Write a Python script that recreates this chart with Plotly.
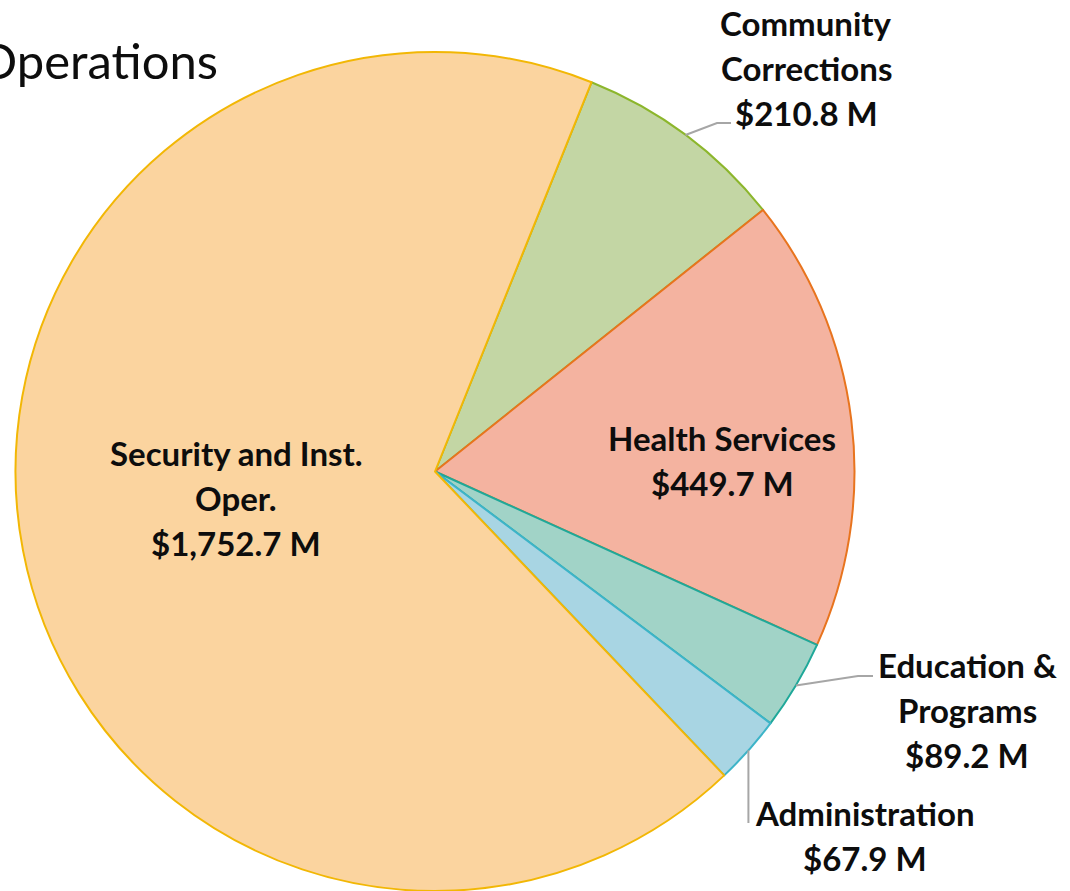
import math
import plotly.graph_objects as go

# ---- data ----
categories = ["Community Corrections", "Health Services", "Education & Programs",
              "Administration", "Security and Inst. Oper."]
values = [210.8, 449.7, 89.2, 67.9, 1752.7]
label_lines = [["Community", "Corrections"], ["Health Services"], ["Education &", "Programs"],
               ["Administration"], ["Security and Inst.", "Oper."]]
fill_colors = ["#C3D6A4", "#F4B3A0", "#A1D3C7", "#A8D5E3", "#FBD49F"]
line_colors = ["#8CB62C", "#E8741E", "#1FA899", "#3DB4C8", "#F2B705"]
title_text = "Operations"

# ---- layout geometry (pixels) ----
W, H = 1070, 891
MT = 52
PH = H - MT
CX, R = 435, PH / 2.0
CY = MT + R
ROT = 21.9


def px(x):
    return x / W


def py(y):
    return (H - y) / PH


fig = go.Figure(go.Pie(
    labels=categories, values=values, sort=False, direction="clockwise",
    rotation=ROT, textinfo="none", hoverinfo="label+value",
    marker=dict(colors=fill_colors, line=dict(color=line_colors, width=2)),
    domain=dict(x=[px(CX - R), px(CX + R)], y=[0, 1]),
    showlegend=False,
))

FONT = "Lato"
FS = 33
LS = 45
# label anchor (center x, first line y) in pixels
label_pos = [(806, 23), (722, 438), (967, 665), (865, 813), (236, 453)]

annotations = []
for lines, v, (lx, ly) in zip(label_lines, values, label_pos):
    all_lines = lines + [f"${v:,.1f} M"]
    for i, t in enumerate(all_lines):
        annotations.append(dict(
            text=t, x=px(lx), y=py(ly + i * LS), xref="paper", yref="paper",
            xanchor="center", yanchor="middle", showarrow=False,
            font=dict(family=FONT, size=FS, color="#0D0D0D", weight="bold"),
        ))

annotations.append(dict(
    text=title_text, x=px(-24), y=py(60), xref="paper", yref="paper",
    xanchor="left", yanchor="middle", showarrow=False,
    font=dict(family=FONT, size=49, color="#0D0D0D"),
))

# leader lines from slice mid-angle on the rim
total = sum(values)
mids = []
acc = 0.0
for v in values:
    mids.append(ROT + (acc + v / 2) / total * 360.0)
    acc += v


def rim(angle):
    a = math.radians(angle)
    return CX + R * math.sin(a), CY - R * math.cos(a)


shapes = []
leader_paths = {0: [(717, 123), (731, 123)], 2: [(858, 676), (873, 676)], 3: [(748, 823)]}
for idx, pts in leader_paths.items():
    x0, y0 = rim(mids[idx])
    if idx == 3:
        pts = [(x0, 823)]
    seq = [(x0, y0)] + pts
    path = "M " + " L ".join(f"{px(a)},{py(b)}" for a, b in seq)
    shapes.append(dict(type="path", path=path, xref="paper", yref="paper",
                       line=dict(color="#A6A6A6", width=2)))

fig.update_layout(
    width=W, height=H, margin=dict(l=0, r=0, t=MT, b=0),
    paper_bgcolor="white", plot_bgcolor="white",
    annotations=annotations, shapes=shapes,
)

fig.write_html("out.html", config={"displayModeBar": False},
               post_script="document.body.style.margin='0';")
